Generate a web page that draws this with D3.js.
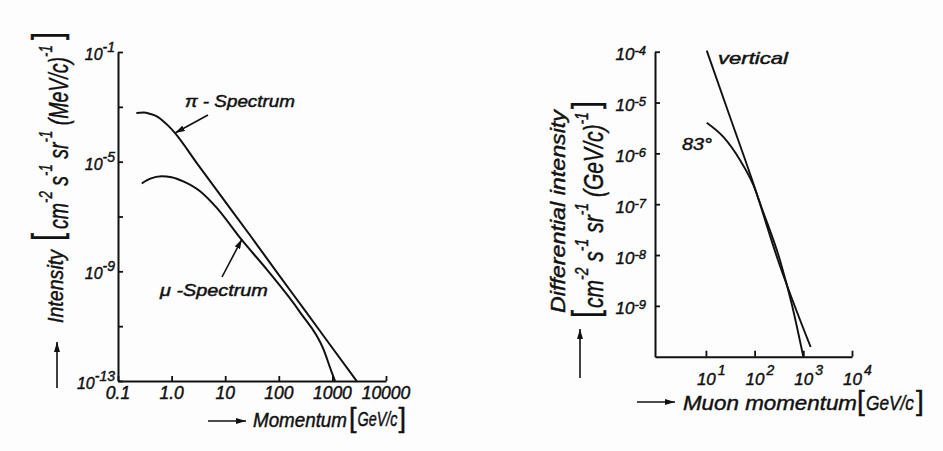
<!DOCTYPE html>
<html>
<head>
<meta charset="utf-8">
<script src="https://cdn.jsdelivr.net/npm/d3@7"></script>
<style>
  html, body { margin: 0; padding: 0; background: #fdfdfd; }
  svg { display: block; }
  text { font-family: "Liberation Sans", Arial, sans-serif; font-style: italic; fill: #111; stroke: #111; stroke-width: 0.45px; }
  .upright { font-style: normal; }
</style>
</head>
<body>
<svg id="chart" width="943" height="451"></svg>
<script>
// ---- Left panel: pion and muon momentum spectra --------------------------
const piMomentum  = [0.22, 0.3, 0.4, 0.55, 0.7, 0.9, 1.16, 3, 10, 30, 100, 300, 1000, 2840];
const piIntensity = [6.0e-4, 6.2e-4, 5.5e-4, 4.3e-4, 3.0e-4, 1.9e-4, 1.1e-4, 8.5e-6, 3.5e-7, 1.9e-8, 7.4e-10, 4.0e-11, 1.6e-12, 1.0e-13];

const muMomentum  = [0.277, 0.4, 0.65, 1.0, 1.65, 3.4, 6.9, 20, 59, 250, 680, 970, 1120];
const muIntensity = [1.6e-6, 2.4e-6, 2.95e-6, 2.7e-6, 1.9e-6, 8.3e-7, 2.1e-7, 1.45e-8, 1.2e-9, 3.2e-11, 1.45e-12, 2.1e-13, 1.0e-13];

const leftXTicks      = [0.1, 1, 10, 100, 1000, 10000];
const leftXTickLabels = ["0.1", "1.0", "10", "100", "1000", "10000"];
const leftYTicks      = [1e-1, 1e-3, 1e-5, 1e-7, 1e-9, 1e-11, 1e-13];
const leftYLabelTicks = [1e-1, 1e-5, 1e-9, 1e-13];
const leftYLabelExps  = ["-1", "-5", "-9", "-13"];

// ---- Right panel: differential muon spectrum, vertical and 83° ----------
const verticalMomentum  = [10.4, 30, 100, 300, 1416];
const verticalIntensity = [1.05e-4, 5.8e-6, 2.15e-7, 8.1e-9, 1.55e-10];

const inclinedMomentum  = [10.4, 22.8, 50, 94, 140, 332, 577, 1000];
const inclinedIntensity = [4.0e-6, 2.1e-6, 7.4e-7, 2.4e-7, 8.4e-8, 7.9e-9, 1.1e-9, 1.0e-10];

const rightXTicks    = [10, 100, 1000, 10000];
const rightXTickExps = ["1", "2", "3", "4"];
const rightYTicks    = [1e-4, 1e-5, 1e-6, 1e-7, 1e-8, 1e-9];
const rightYTickExps = ["-4", "-5", "-6", "-7", "-8", "-9"];

const ink = "#111";
const svg = d3.select("#chart");

svg.append("defs").append("marker")
  .attr("id", "head")
  .attr("viewBox", "0 0 10 6")
  .attr("refX", 10).attr("refY", 3)
  .attr("markerWidth", 10).attr("markerHeight", 6)
  .attr("markerUnits", "userSpaceOnUse")
  .attr("orient", "auto")
  .append("path").attr("d", "M0,0L10,3L0,6Z").attr("fill", ink);

function arrow(x1, y1, x2, y2) {
  svg.append("line")
    .attr("x1", x1).attr("y1", y1).attr("x2", x2).attr("y2", y2)
    .attr("stroke", ink).attr("stroke-width", 1.6)
    .attr("marker-end", "url(#head)");
}

function styleAxis(g) {
  g.selectAll("path.domain").attr("stroke", ink).attr("stroke-width", 2);
  g.selectAll(".tick line").attr("stroke", ink).attr("stroke-width", 1.8);
  g.selectAll(".tick text").remove();
}

function curve(xs, ys, data) {
  return d3.line()
    .x(d => xs(d[0])).y(d => ys(d[1]))
    .curve(d3.curveMonotoneX)(data);
}

// Text placed at (x, y) and stretched/condensed along its baseline to a given width
function fitted(parent, x, y, width, size, build, cls) {
  const g = parent.append("g").attr("transform", `translate(${x},${y})`);
  const t = g.append("text").attr("font-size", size);
  if (cls) t.attr("class", cls);
  build(t);
  const w = t.node().getComputedTextLength();
  t.attr("transform", `scale(${width / w},1)`);
  return t;
}

// Base with exponents: parts = [[base, exp], ...]
function withExponents(parts, size, supSize, rise) {
  return t => {
    let up = 0;
    parts.forEach(([b, e]) => {
      t.append("tspan").attr("font-size", size).attr("dy", up).text(b);
      t.append("tspan").attr("font-size", supSize).attr("dy", -rise).text(e);
      up = rise;
    });
  };
}

// "10" with a raised exponent
function powerLabel(sel, base, exp, size, supSize, rise) {
  sel.append("tspan").attr("font-size", size).text(base);
  sel.append("tspan").attr("font-size", supSize).attr("dy", -rise).text(exp);
}

// ---------------------------------------------------------------------------
// Left panel
// ---------------------------------------------------------------------------
const xL = d3.scaleLog().domain([0.1, 10000]).range([118, 386]);
const yL = d3.scaleLog().domain([1e-13, 1e-1]).range([381, 52]);

svg.append("g").attr("transform", "translate(118,0)")
  .call(d3.axisLeft(yL).tickValues(leftYTicks).tickSize(-5).tickSizeOuter(0))
  .call(styleAxis);

svg.append("g").attr("transform", "translate(0,381)")
  .call(d3.axisBottom(xL).tickValues(leftXTicks).tickSize(-5).tickSizeOuter(0))
  .call(styleAxis);

svg.append("g").selectAll("text")
  .data(leftXTicks)
  .join("text")
  .attr("x", d => xL(d)).attr("y", 399)
  .attr("text-anchor", "middle")
  .attr("font-size", 17.5)
  .text((d, i) => leftXTickLabels[i]);

leftYLabelTicks.forEach((v, i) => {
  const t = svg.append("text")
    .attr("x", 115).attr("y", yL(v) + 8)
    .attr("text-anchor", "end");
  powerLabel(t, "10", leftYLabelExps[i], 16, 14, 8);
});

const piData = piMomentum.map((p, i) => [p, piIntensity[i]]);
const muData = muMomentum.map((p, i) => [p, muIntensity[i]]);

svg.append("path").attr("d", curve(xL, yL, piData))
  .attr("fill", "none").attr("stroke", ink).attr("stroke-width", 2);
svg.append("path").attr("d", curve(xL, yL, muData))
  .attr("fill", "none").attr("stroke", ink).attr("stroke-width", 2);

// curve labels with pointers
fitted(svg, 185, 107, 110, 16, t => t.text("π - Spectrum"));
arrow(208, 115, 175, 133);

fitted(svg, 160, 296, 108, 16, t => t.text("μ -Spectrum"));
arrow(222, 277, 242, 239);

// x-axis title
arrow(208, 421, 246, 421);
fitted(svg, 253, 426.5, 94, 19.5, t => t.text("Momentum"));
svg.append("text").attr("class", "upright").attr("x", 349).attr("y", 426.5)
  .attr("font-size", 27).text("[");
fitted(svg, 357.5, 426, 40, 19.5, t => t.text("GeV/c"));
svg.append("text").attr("class", "upright").attr("x", 398.5).attr("y", 426.5)
  .attr("font-size", 27).text("]");

// y-axis title (rotated)
arrow(57, 388, 57, 342);
const tL = svg.append("g").attr("transform", "translate(63,323) rotate(-90)");
fitted(tL, 0, 0, 73, 22, t => t.text("Intensity"));
fitted(tL, 82, -2, 8, 40, t => t.text("["), "upright");
fitted(tL, 94, 5, 184, 28,
  withExponents([["cm", "-2"], [" s", "-1"], [" sr", "-1"], [" (MeV/c)", "-1"]], 28, 19, 16));
fitted(tL, 283, -2, 8, 40, t => t.text("]"), "upright");

// ---------------------------------------------------------------------------
// Right panel
// ---------------------------------------------------------------------------
const xR = d3.scaleLog().domain([0.9, 10000]).range([655, 852]);
const yR = d3.scaleLog().domain([1e-10, 1e-4]).range([356.7, 51.7]);

svg.append("g").attr("transform", "translate(655,0)")
  .call(d3.axisLeft(yR).tickValues(rightYTicks).tickSize(-5).tickSizeOuter(0))
  .call(styleAxis);

svg.append("g").attr("transform", "translate(0,356.7)")
  .call(d3.axisBottom(xR).tickValues(rightXTicks).tickSize(-6).tickSizeOuter(0))
  .call(styleAxis);

rightYTicks.forEach((v, i) => {
  const t = svg.append("text")
    .attr("x", 646).attr("y", yR(v) + 8.5)
    .attr("text-anchor", "end");
  powerLabel(t, "10", rightYTickExps[i], 17, 13, 5);
});

rightXTicks.forEach((v, i) => {
  const t = svg.append("text")
    .attr("x", xR(v) - 9).attr("y", 385);
  t.append("tspan").attr("font-size", 17).text("10");
  t.append("tspan").attr("font-size", 14).attr("dx", 2).attr("dy", -10).text(rightXTickExps[i]);
});

const verticalData = verticalMomentum.map((p, i) => [p, verticalIntensity[i]]);
const inclinedData = inclinedMomentum.map((p, i) => [p, inclinedIntensity[i]]);

svg.append("path").attr("d", curve(xR, yR, verticalData))
  .attr("fill", "none").attr("stroke", ink).attr("stroke-width", 1.9);
svg.append("path").attr("d", curve(xR, yR, inclinedData))
  .attr("fill", "none").attr("stroke", ink).attr("stroke-width", 1.9);

fitted(svg, 718, 64, 70, 16, t => t.text("vertical"));
fitted(svg, 682, 150, 30, 17, t => t.text("83°"));

// x-axis title
arrow(637, 402, 675, 402);
fitted(svg, 683, 410, 174, 21, t => t.text("Muon momentum"));
svg.append("text").attr("class", "upright").attr("x", 857).attr("y", 410.4)
  .attr("font-size", 28).text("[");
fitted(svg, 866, 410, 48, 20.5, t => t.text("GeV/c"));
svg.append("text").attr("class", "upright").attr("x", 916).attr("y", 410.4)
  .attr("font-size", 28).text("]");

// y-axis title (two rotated lines)
arrow(580, 378, 580, 329);
const tR1 = svg.append("g").attr("transform", "translate(565,313) rotate(-90)");
fitted(tR1, 0, 0, 203, 21, t => t.text("Differential intensity"));
const tR = svg.append("g").attr("transform", "translate(603,318) rotate(-90)");
fitted(tR, 0, -5.5, 8, 37, t => t.text("["), "upright");
fitted(tR, 10, 0, 196, 27,
  withExponents([["cm", "-2"], [" s", "-1"], [" sr", "-1"], [" (GeV/c)", "-1"]], 27, 18, 15));
fitted(tR, 209, -5.5, 8, 37, t => t.text("]"), "upright");
</script>
</body>
</html>
